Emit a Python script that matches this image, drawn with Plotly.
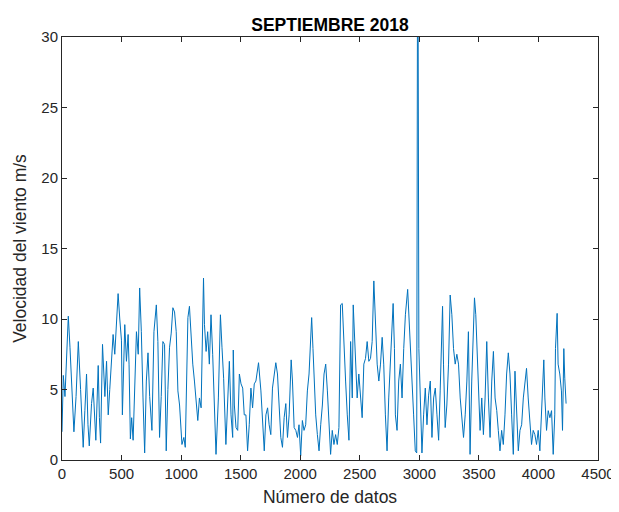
import plotly.graph_objects as go

# sample index (Número de datos) and wind speed (m/s)
idx = [0, 11, 25, 39, 53, 67, 81, 100, 118, 137, 156, 178, 192, 206, 218, 229, 248, 262, 284, 304,
       314, 324, 340, 360, 374, 388, 401, 429, 443, 458, 471, 485, 499, 507, 527, 541, 555, 563, 574, 585,
       597, 625, 640, 652, 666, 680, 694, 708, 722, 736, 755, 772, 792, 805, 819, 833, 847, 861, 875, 889,
       903, 917, 931, 945, 959, 973, 987, 1007, 1023, 1035, 1057, 1070, 1084, 1098, 1112, 1126, 1140, 1154, 1168, 1188,
       1196, 1210, 1223, 1237, 1251, 1265, 1279, 1293, 1313, 1330, 1343, 1357, 1376, 1396, 1405, 1419, 1433, 1438, 1447, 1461,
       1475, 1489, 1503, 1517, 1530, 1544, 1558, 1572, 1586, 1600, 1614, 1628, 1650, 1670, 1684, 1698, 1712, 1726, 1739, 1753,
       1767, 1781, 1795, 1809, 1823, 1837, 1851, 1865, 1879, 1893, 1907, 1924, 1935, 1949, 1963, 1977, 1990, 2004, 2018, 2032,
       2046, 2060, 2074, 2088, 2096, 2107, 2116, 2130, 2144, 2158, 2172, 2186, 2200, 2214, 2228, 2242, 2255, 2269, 2283, 2297,
       2311, 2325, 2339, 2353, 2367, 2381, 2395, 2409, 2423, 2437, 2445, 2456, 2464, 2478, 2492, 2506, 2520, 2534, 2548, 2562,
       2576, 2590, 2604, 2618, 2632, 2646, 2660, 2674, 2688, 2701, 2715, 2729, 2743, 2757, 2771, 2780, 2791, 2799, 2813, 2827,
       2841, 2855, 2869, 2883, 2902, 2911, 2925, 2938, 2952, 2966, 2978, 2984, 2990, 2996, 3008, 3022, 3036, 3050, 3064, 3078,
       3092, 3106, 3120, 3134, 3148, 3162, 3175, 3184, 3195, 3203, 3217, 3231, 3245, 3259, 3273, 3287, 3301, 3315, 3329, 3343,
       3357, 3371, 3385, 3399, 3412, 3426, 3440, 3454, 3463, 3474, 3482, 3496, 3510, 3524, 3538, 3552, 3566, 3580, 3594, 3608,
       3622, 3636, 3650, 3663, 3677, 3691, 3705, 3719, 3733, 3747, 3761, 3775, 3789, 3803, 3817, 3831, 3845, 3859, 3873, 3887,
       3900, 3914, 3928, 3942, 3956, 3970, 3984, 3998, 4012, 4026, 4034, 4045, 4054, 4068, 4082, 4096, 4110, 4124, 4137, 4143,
       4157, 4165, 4179, 4193, 4202, 4213, 4221, 4232]

vel = [2.0, 6.0, 4.5, 7.5, 10.2, 8.0, 5.5, 2.0, 4.5, 8.4, 5.0, 0.9, 3.5, 6.1, 2.5, 1.0, 4.0, 5.1, 1.4, 6.7,
       3.0, 1.2, 8.2, 4.5, 7.0, 3.2, 5.0, 8.9, 7.5, 9.5, 11.8, 10.0, 8.5, 3.2, 9.6, 7.0, 8.9, 6.8, 1.5, 3.0,
       1.4, 9.1, 7.5, 12.2, 9.1, 4.4, 0.5, 5.6, 7.6, 4.5, 2.1, 9.1, 11.0, 8.4, 1.6, 4.5, 8.4, 8.2, 0.65, 5.0,
       8.0, 9.0, 10.8, 10.5, 9.1, 4.9, 3.9, 1.1, 1.6, 0.9, 10.1, 10.9, 8.7, 6.8, 5.6, 3.9, 2.8, 4.4, 3.7, 12.9,
       9.6, 7.7, 9.1, 6.8, 10.3, 7.5, 3.2, 0.4, 4.4, 10.3, 8.0, 5.8, 1.1, 6.1, 7.0, 3.2, 1.6, 7.8, 3.9, 2.3,
       2.1, 6.1, 5.4, 5.1, 3.2, 3.2, 0.65, 2.5, 5.1, 3.7, 5.4, 5.6, 6.9, 4.9, 2.8, 0.65, 3.2, 3.7, 2.5, 1.8,
       5.1, 6.1, 6.9, 6.1, 3.5, 1.6, 0.9, 3.0, 4.0, 1.6, 3.2, 7.1, 5.6, 2.3, 2.1, 1.6, 2.5, 0.3, 2.8, 2.1,
       2.5, 4.9, 6.1, 8.7, 10.1, 7.9, 6.0, 3.2, 1.8, 0.65, 2.5, 3.9, 6.1, 6.8, 4.9, 2.3, 0.4, 2.1, 1.1, 1.8,
       1.1, 2.3, 11.0, 11.1, 7.9, 5.6, 3.2, 1.4, 8.4, 4.4, 11.0, 9.1, 6.8, 4.4, 6.1, 4.4, 3.0, 6.8, 7.2, 8.4,
       7.0, 7.2, 8.4, 12.7, 10.1, 6.8, 5.6, 6.8, 8.7, 6.8, 3.2, 0.65, 4.4, 6.8, 9.1, 11.1, 7.9, 3.2, 2.1, 5.6,
       6.8, 4.4, 7.9, 10.3, 12.1, 10.3, 7.9, 5.6, 3.2, 0.65, 0.5, 31.0, 31.0, 7.9, 3.9, 0.5, 3.2, 5.1, 2.5, 4.6,
       5.6, 1.6, 4.4, 5.1, 3.2, 1.4, 4.9, 8.7, 10.9, 6.8, 2.3, 3.9, 6.8, 11.7, 10.3, 7.9, 6.8, 7.5, 6.8, 4.4,
       3.2, 1.6, 3.2, 5.6, 9.1, 0.4, 5.6, 10.5, 11.5, 10.3, 8.2, 5.6, 2.1, 4.4, 1.8, 4.4, 8.4, 4.4, 1.6, 5.6,
       7.7, 4.4, 3.5, 2.1, 0.65, 2.1, 1.1, 3.2, 6.1, 7.6, 6.1, 3.2, 0.4, 6.3, 3.2, 0.65, 2.1, 2.5, 4.4, 5.8,
       6.5, 4.4, 2.3, 1.1, 2.1, 1.8, 1.1, 2.1, 0.65, 3.2, 5.6, 7.1, 4.4, 2.1, 3.5, 3.0, 3.5, 0.4, 3.2, 7.9,
       10.4, 6.8, 6.1, 4.9, 2.1, 7.9, 5.8, 4.0, 5.0]

x_ticks = [0, 500, 1000, 1500, 2000, 2500, 3000, 3500, 4000, 4500]
y_ticks = [0, 5, 10, 15, 20, 25, 30]

FONT = "Liberation Sans, Arial"

fig = go.Figure()
fig.add_trace(go.Scatter(x=idx, y=vel, mode="lines",
                         line=dict(color="#0072BD", width=1), showlegend=False))

axis_common = dict(showgrid=False, zeroline=False, showline=True, linecolor="#262626",
                   linewidth=1, mirror="ticks", ticks="inside", ticklen=5,
                   tickcolor="#262626", tickfont=dict(family=FONT, size=15, color="#262626"))

# page body adds an 8 px offset, so the figure is 8 px smaller and margins are shifted
fig.update_layout(
    width=611, height=504,
    margin=dict(l=54, r=21, t=29, b=52, autoexpand=False),
    paper_bgcolor="white", plot_bgcolor="white",
    title=dict(text="<b>SEPTIEMBRE 2018</b>", x=0.5, xref="paper", xanchor="center",
               y=1 - 16.5 / 504, yref="container", yanchor="middle",
               font=dict(family=FONT, size=17.5, color="black")),
    xaxis=dict(range=[0, 4500], tickvals=x_ticks, automargin=False, **axis_common,
               title=dict(text="Número de datos", standoff=9,
                          font=dict(family=FONT, size=17.5, color="#262626"))),
    yaxis=dict(range=[0, 30], tickvals=y_ticks, automargin=False, **axis_common,
               title=dict(text="Velocidad del viento m/s", standoff=10,
                          font=dict(family=FONT, size=17.5, color="#262626"))),
)

fig.write_html("out.html")
